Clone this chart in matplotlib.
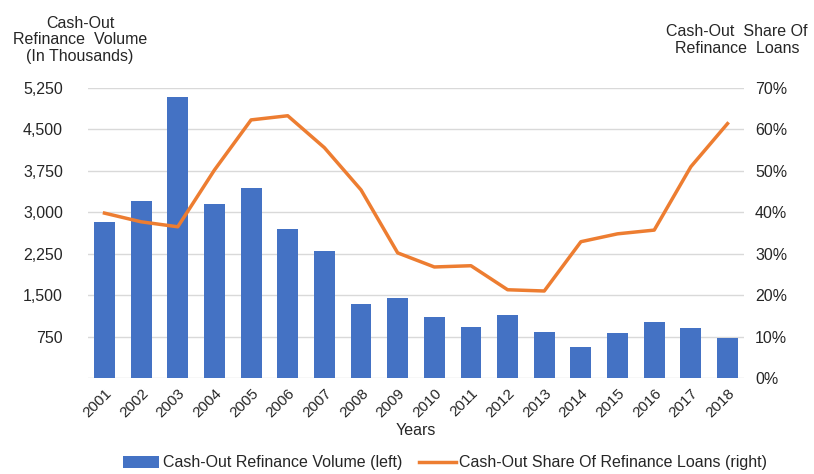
import numpy as np
import matplotlib.pyplot as plt

plt.rcParams['font.family'] = ['Liberation Sans', 'DejaVu Sans']

years = [str(y) for y in range(2001, 2019)]
volume = [2824, 3204, 5087, 3150, 3440, 2697, 2300, 1340, 1448,
          1104, 923, 1140, 833, 561, 815, 1014, 905, 724]
share = [39.8, 37.7, 36.5, 50.2, 62.3, 63.3, 55.6, 45.4, 30.2,
         26.8, 27.1, 21.3, 21.0, 32.9, 34.8, 35.7, 51.0, 61.4]

left_ticks = [750, 1500, 2250, 3000, 3750, 4500, 5250]
right_ticks = [0, 10, 20, 30, 40, 50, 60, 70]

bar_color = '#4472C4'
line_color = '#ED7D31'
txt = '#262626'

fig = plt.figure(figsize=(8.14, 4.74), dpi=100)
ax = fig.add_axes([88/814, 1-378/474, (744-88)/814, 290/474])
ax2 = ax.twinx()

x = np.arange(len(years))
ax.bar(x, volume, width=0.57, color=bar_color, zorder=2,
       label='Cash-Out Refinance Volume (left)')
ax2.plot(x, share, color=line_color, linewidth=2.5, zorder=3,
         label='Cash-Out Share Of Refinance Loans (right)')

ax.set_ylim(0, 5250)
ax2.set_ylim(0, 70)
ax.set_xlim(-0.45, len(years) - 0.55)
ax.set_yticks(left_ticks)
ax.set_yticklabels([f'{v:,}' for v in left_ticks])
ax2.set_yticks(right_ticks)
ax2.set_yticklabels([f'{v}%' for v in right_ticks])
ax.set_xticks(x)
ax.set_xticklabels(years, rotation=45, ha='right', rotation_mode='anchor')

for a in (ax, ax2):
    for s in a.spines.values():
        s.set_visible(False)
    a.tick_params(length=0, labelsize=11.5, colors=txt)
ax.tick_params(axis='y', pad=18)
ax2.tick_params(axis='y', pad=8)
ax.tick_params(axis='x', pad=6, labelsize=11)

ax.grid(axis='y', color='#d9d9d9', linewidth=1, zorder=0)
ax.axhline(0, color='#d9d9d9', linewidth=1, zorder=1)
ax.set_axisbelow(True)

ax.set_xlabel('Years', fontsize=11.5, color=txt, labelpad=2)

fig.text(80/814, 1-40/474, 'Cash-Out\nRefinance  Volume\n(In Thousands)',
         ha='center', va='center', fontsize=11.5, color=txt, linespacing=1.1)
fig.text(737/814, 1-40/474, 'Cash-Out  Share Of\nRefinance  Loans',
         ha='center', va='center', fontsize=11.5, color=txt, linespacing=1.1)

h1, l1 = ax.get_legend_handles_labels()
h2, l2 = ax2.get_legend_handles_labels()
fig.legend(h1 + h2, l1 + l2, loc='center', bbox_to_anchor=(445/814, 1-463/474),
           ncol=2, frameon=False, fontsize=11.5, handlelength=2.3,
           handletextpad=0.2, columnspacing=1.1, labelcolor=txt)

fig.savefig('out.png', dpi=100)
